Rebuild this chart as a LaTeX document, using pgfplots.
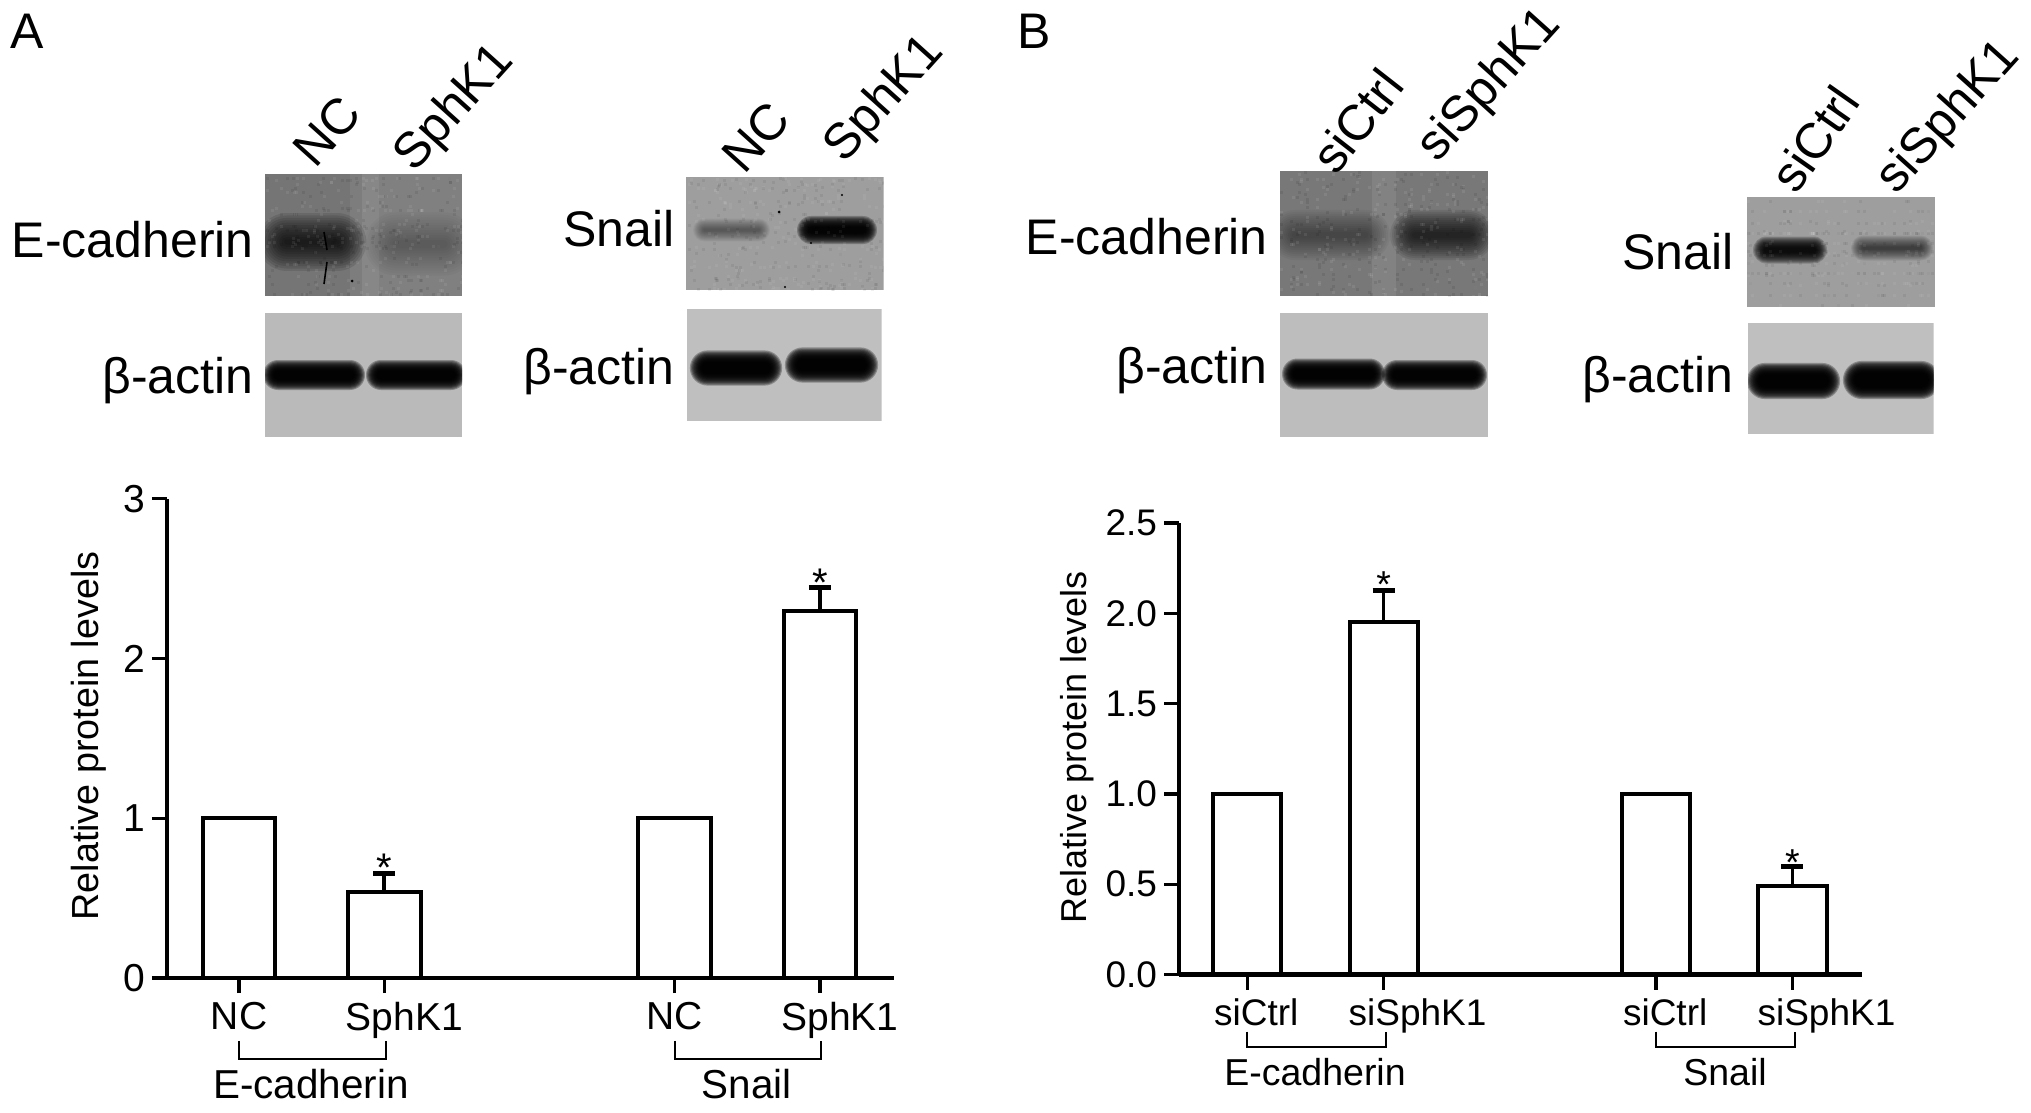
\documentclass[border=0pt]{standalone}
\usepackage{pgfplots}
\pgfplotsset{compat=1.18}
\usepackage{fontspec}
\setmainfont{Liberation Sans}
\newcommand{\fs}[1]{\fontsize{#1}{#1}\selectfont}
% soft western-blot band: [blur step] x1,x2,ycentre,core height,opacity per step
\newcommand{\band}[6][2]{%
  \foreach \k in {0,...,11}{%
    \pgfmathsetmacro{\e}{(11-\k)*#1}%
    \pgfmathsetmacro{\r}{(#5/2+\e)*0.5}%
    \fill[black,opacity=#6,rounded corners=\r pt]
      ({#2-\e},{#4-#5/2-\e}) rectangle ({#3+\e},{#4+#5/2+\e});
  }%
}
\newcommand{\lane}[5]{\fill[white,opacity=#5] (#1,#3) rectangle (#2,#4);}
% fixed film grain (decoration of the photographed blots): xc,yc,w,h,opacity
\newcommand{\grain}[5]{%
  \foreach \k in {1,...,400}{%
    \edef\ax{\the\numexpr \k*\k*37+\k*53\relax}%
    \edef\ay{\the\numexpr \k*\k*\k*3+\k*97\relax}%
    \edef\gx{\the\numexpr \ax-#3*(\ax/#3)\relax}%
    \edef\gy{\the\numexpr \ay-#4*(\ay/#4)\relax}%
    \ifodd\k\def\gc{black}\else\def\gc{white}\fi
    \fill[\gc,opacity=#5] ({#1+\gx},{#2+\gy}) rectangle ++(3,3);
  }%
}
\pgfplotsset{
  figbar/.style={
    scale only axis, clip=false, axis on top,
    axis x line=bottom, axis y line=left,
    axis line style={-,line width=2.4pt,black},
    tick align=outside,
    major tick length=7.5pt,
    every tick/.style={black,line width=1.7pt},
    ybar, ymin=0,
    xtick={1,2,4,5},
    minor tick num=0,
  },
  plainbars/.style={
    ybar, bar width=0.5, bar shift=0pt,
    draw=black, fill=white, line width=2pt,
  },
  figbars/.style={
    plainbars,
    error bars/.cd, y dir=plus, y explicit,
    error bar style={line width=1.8pt,black},
    error mark options={line width=2.4pt,mark size=5.5pt,black,rotate=90},
  },
  bracket/.style={line width=1pt,black,mark=none,sharp plot,forget plot},
}
\begin{document}
\begin{tikzpicture}
\useasboundingbox (0,0) rectangle (1015.5pt,-556.5pt);
\fill[white] (0,0) rectangle (1015.5pt,-556.5pt);
\begin{scope}[x=0.5pt,y=-0.5pt]
  % panel letters
  \node[anchor=base west,inner sep=0pt] at (10,49) {\fs{25}A};
  \node[anchor=base west,inner sep=0pt] at (1017,49) {\fs{25}B};

  % ---- A: E-cadherin blot
  \begin{scope}
    \clip (265,174) rectangle (462,296);
    \fill[black!50] (265,174) rectangle (462,296);
    \fill[black,opacity=.08] (265,174) rectangle (362,296);
    \lane{350}{379}{174}{296}{.06}
    \band[2.4]{284}{340}{242}{5}{.105}
    \band[2.5]{392}{448}{244}{8}{.022}
    \grain{363}{235}{197}{122}{.07}
    \draw[black,line width=.8pt] (324,232) -- (327,250) (327,262) -- (324,284);
    \fill[black] (352,281) circle (1.5);
  \end{scope}
  \begin{scope}
    \clip (265,313) rectangle (462,437);
    \fill[black!27] (265,313) rectangle (462,437);
    \band[1]{274}{354}{375}{8}{.28}
    \band[1]{377}{455}{375}{8}{.28}
  \end{scope}
  % ---- A: Snail blot
  \begin{scope}
    \clip (686,177) rectangle (883.5,290);
    \fill[black!38] (686,177) rectangle (883.5,290);
    \band[.9]{703}{760}{230}{3}{.045}
    \band[1]{808}{866}{230}{6}{.23}
    \grain{785}{233}{197}{113}{.06}
    \fill[black] (779,212) circle (1.5) (842,195) circle (1.1) (785,287) circle (1.1) (811,243) circle (1.1);
  \end{scope}
  \begin{scope}
    \clip (686.5,309) rectangle (881.5,421);
    \fill[black!25] (686.5,309) rectangle (881.5,421);
    \band[1.1]{702}{770}{368}{11}{.28}
    \band[1.1]{797}{866}{365}{11}{.28}
  \end{scope}
  % ---- B: E-cadherin blot
  \begin{scope}
    \clip (1280,171) rectangle (1488,296);
    \fill[black!53] (1280,171) rectangle (1488,296);
    \lane{1372}{1396}{171}{296}{.08}
    \band[2]{1292}{1368}{235}{6}{.04}
    \band[2]{1412}{1472}{235}{6}{.09}
    \grain{1384}{233}{208}{125}{.08}
  \end{scope}
  \begin{scope}
    \clip (1280,313) rectangle (1488,437);
    \fill[black!26] (1280,313) rectangle (1488,437);
    \band[1]{1293}{1374}{374}{9}{.28}
    \band[1]{1393}{1476}{375}{8}{.28}
  \end{scope}
  % ---- B: Snail blot
  \begin{scope}
    \clip (1747,197) rectangle (1935,307);
    \fill[black!38] (1747,197) rectangle (1935,307);
    \band[1]{1764}{1816}{250}{5}{.18}
    \band[1]{1862}{1922}{248}{3}{.07}
    \grain{1841}{252}{188}{110}{.06}
  \end{scope}
  \begin{scope}
    \clip (1748,323) rectangle (1933.5,434);
    \fill[black!25] (1748,323) rectangle (1933.5,434);
    \band[1.1]{1759}{1828}{381}{12}{.28}
    \band[1.1]{1855}{1928}{380}{14}{.28}
  \end{scope}

  % blot labels
  \node[anchor=base east,inner sep=0pt] at (254,257) {\fs{25}E-cadherin};
  \node[anchor=base east,inner sep=0pt] at (254,393) {\fs{25}β-actin};
  \node[anchor=base east,inner sep=0pt] at (675,247) {\fs{25}Snail};
  \node[anchor=base east,inner sep=0pt] at (675,384) {\fs{25}β-actin};
  \node[anchor=base east,inner sep=0pt] at (1268,255) {\fs{25}E-cadherin};
  \node[anchor=base east,inner sep=0pt] at (1268,383) {\fs{25}β-actin};
  \node[anchor=base east,inner sep=0pt] at (1734,270) {\fs{25}Snail};
  \node[anchor=base east,inner sep=0pt] at (1734,392) {\fs{25}β-actin};

  % rotated lane labels
  \node[rotate=48,inner sep=0pt] at (327,131) {\fs{25}NC};
  \node[rotate=48,inner sep=0pt] at (455,109) {\fs{25}SphK1};
  \node[rotate=48,inner sep=0pt] at (756,137) {\fs{25}NC};
  \node[rotate=48,inner sep=0pt] at (885,100) {\fs{25}SphK1};
  \node[rotate=52,inner sep=0pt] at (1357,121) {\fs{25}siCtrl};
  \node[rotate=48,inner sep=0pt] at (1490,86) {\fs{25}siSphK1};
  \node[rotate=55,inner sep=0pt] at (1815,139) {\fs{25}siCtrl};
  \node[rotate=48,inner sep=0pt] at (1949,118) {\fs{25}siSphK1};
\end{scope}

% ---- Chart A
\begin{axis}[figbar,
  at={(83.5pt,-489pt)}, anchor=south west,
  width=363.5pt, height=239.65pt,
  xmin=0.504, xmax=5.51, ymax=3,
  ytick={0,1,2,3}, yticklabels={0,1,2,3},
  xticklabels={NC,\hspace*{20pt}SphK1,NC,\hspace*{20pt}SphK1},
  tick label style={font=\fs{19.5}},
  xticklabel style={yshift=-1pt},
  ylabel={Relative protein levels},
  ylabel style={font=\fs{18.85},at={(axis description cs:-0.108,0.505)},anchor=center,rotate=0},
]
\addplot[plainbars] coordinates {(1,1) (4,1)};
\addplot[figbars] coordinates {(2,0.54) +- (0,0.114) (5,2.295) +- (0,0.149)};
\addplot[bracket] coordinates {(1,-0.394) (1,-0.507) (2.01,-0.507) (2.01,-0.394)};
\addplot[bracket] coordinates {(4,-0.394) (4,-0.507) (5.01,-0.507) (5.01,-0.394)};
\node[anchor=base,inner sep=0pt] at (axis cs:1.496,-0.757) {\fs{20.2}E-cadherin};
\node[anchor=base,inner sep=0pt] at (axis cs:4.497,-0.757) {\fs{20.2}Snail};
\node[anchor=base,inner sep=0pt] at (axis cs:2,0.604) {\fs{20}*};
\node[anchor=base,inner sep=0pt] at (axis cs:5,2.388) {\fs{20}*};
\end{axis}

% ---- Chart B
\begin{axis}[figbar,
  at={(589.5pt,-487.25pt)}, anchor=south west,
  width=341.35pt, height=225.75pt,
  xmin=0.499, xmax=5.508, ymax=2.5,
  ytick={0,0.5,1,1.5,2,2.5}, yticklabels={0.0,0.5,1.0,1.5,2.0,2.5},
  xticklabels={\hspace*{9pt}siCtrl,\hspace*{34pt}siSphK1,\hspace*{9pt}siCtrl,\hspace*{34pt}siSphK1},
  tick label style={font=\fs{18.5}},
  xticklabel style={yshift=-1pt},
  ylabel={Relative protein levels},
  ylabel style={font=\fs{18},at={(axis description cs:-0.1485,0.503)},anchor=center,rotate=0},
]
\addplot[plainbars] coordinates {(1,1) (4,1)};
\addplot[figbars] coordinates {(2,1.95) +- (0,0.178) (5,0.49) +- (0,0.11)};
\addplot[bracket] coordinates {(1,-0.3156) (1,-0.4014) (2.015,-0.4014) (2.015,-0.3156)};
\addplot[bracket] coordinates {(4,-0.3156) (4,-0.4014) (5.02,-0.4014) (5.02,-0.3156)};
\node[anchor=base,inner sep=0pt] at (axis cs:1.497,-0.612) {\fs{18.75}E-cadherin};
\node[anchor=base,inner sep=0pt] at (axis cs:4.505,-0.612) {\fs{18.75}Snail};
\node[anchor=base,inner sep=0pt] at (axis cs:2,2.085) {\fs{18.75}*};
\node[anchor=base,inner sep=0pt] at (axis cs:5,0.55) {\fs{18.75}*};
\end{axis}
\end{tikzpicture}
\end{document}
